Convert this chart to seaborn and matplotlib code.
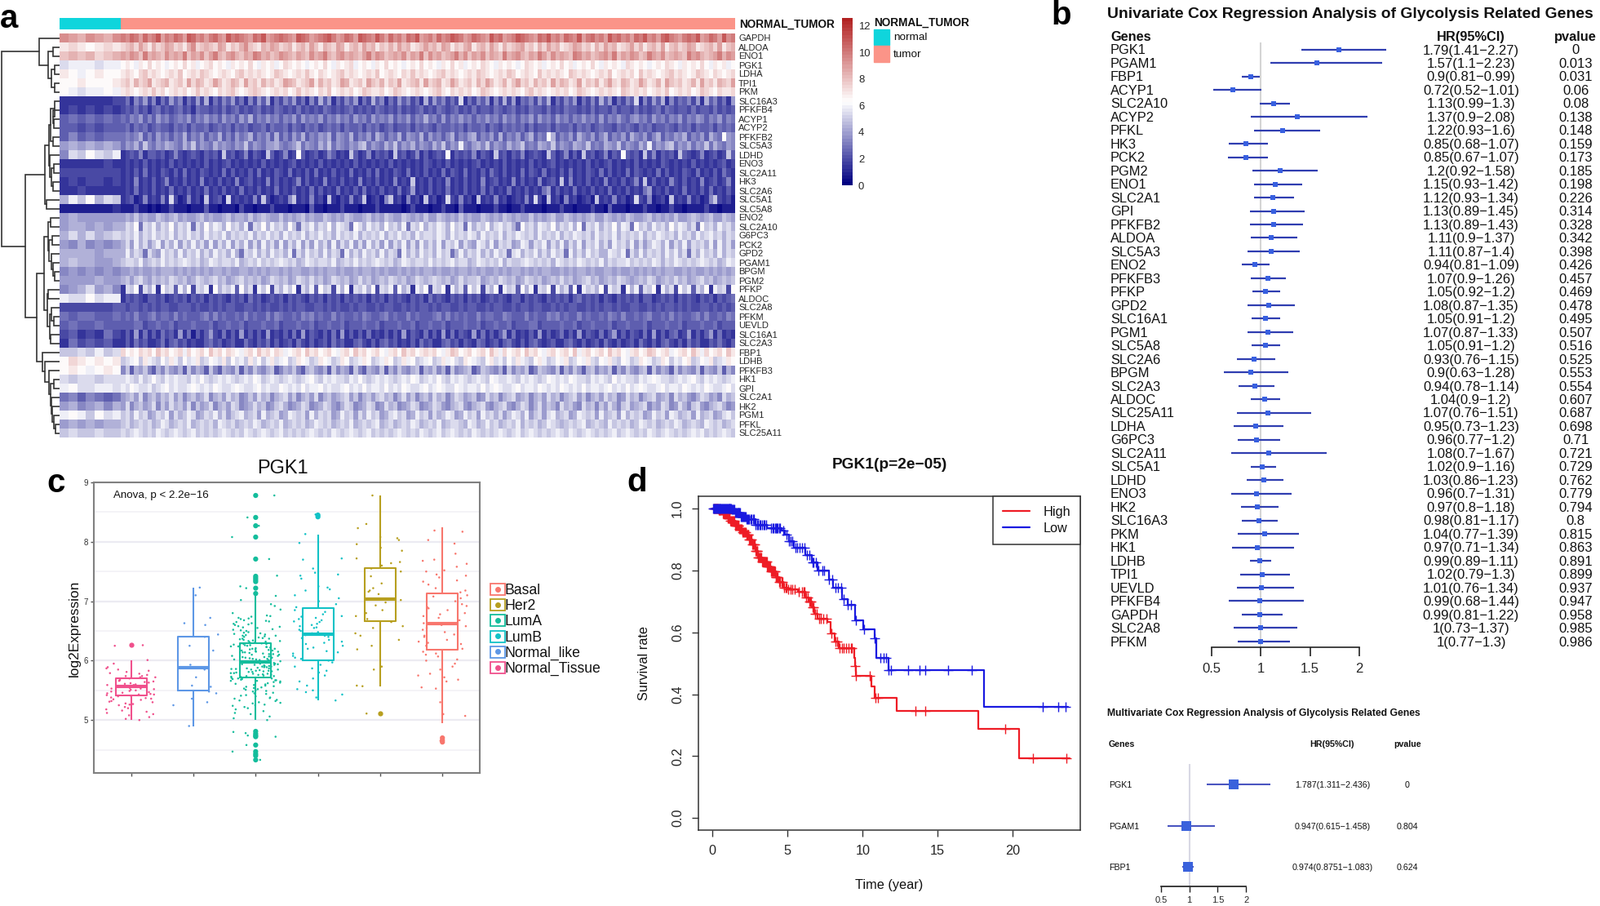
import numpy as np
import pandas as pd
import seaborn as sns
from matplotlib import pyplot as plt
from matplotlib.colors import LinearSegmentedColormap, ListedColormap
from matplotlib.legend_handler import HandlerTuple
from matplotlib.lines import Line2D
from matplotlib.patches import Patch, Rectangle

W, H = 1961, 1110

# panel a
heat_genes = ["GAPDH", "ALDOA", "ENO1", "PGK1", "LDHA", "TPI1", "PKM", "SLC16A3", "PFKFB4", "ACYP1", "ACYP2",
              "PFKFB2", "SLC5A3", "LDHD", "ENO3", "SLC2A11", "HK3", "SLC2A6", "SLC5A1", "SLC5A8", "ENO2", "SLC2A10",
              "G6PC3", "PCK2", "GPD2", "PGAM1", "BPGM", "PGM2", "PFKP", "ALDOC", "SLC2A8", "PFKM", "UEVLD",
              "SLC16A1", "SLC2A3", "FBP1", "LDHB", "PFKFB3", "HK1", "GPI", "SLC2A1", "HK2", "PGM1", "PFKL", "SLC25A11"]
# one character per column, base 36, half-unit bins of expression:
# 7 normal columns (each shown twice), then 140 tumor columns
heat_rows = [
    "ihgihgi jikjhkijlh jikjhlkijh jkihljkjih kjlhijkjih lkjhijkljh ikjhlkjilj hkijhkjlhi jhkijlkjhi kjihljkhij lkjihkjlij hkjilhjkij hljkijhkjl ijhkljihjk jlhikjhlij",
    "dedcded efgehfdgef hgefdgiefg fehgdfegif edgfhgefgd fgehfdgfeh gdfgehfgdf egehfgdefh fgehgdfegh dfgehfdgef ghefdgehfg defhgefdge hfgdefhegd fgehdfgefh gdefgehdfg",
    "fgfgefg hgihfjghgf ighgjfhgif hjgfhigfhg jighfgihgf hgfighjgfh ighgfhjgih fghgifhgjf ighfghjgif hgifhgfjgh igfhgjhfig hgfjighfgh igjfhgihfg jhgifghgfj higfghjgih",
    "abbbabb cdcbdcecdc bcdcecdbcd ecdcbdcdce cbdcdbcedc dcbcdcecbd cdebcdcbdc ecdcbcdcec dcbdcecdbc dcedcbdcdc bcedcdbcdc ecdbcdcecb dcdcbedcdc bcdcedcbdc dcecbdcdbc",
    "dcbcdcc dedcefdedc dedfcdedfe dcdedcefde dedcdfedcd edfdcedcde fdedcdedfc dedcedfded cdefdedcde dfedcdedfe cdedcfdede dcfededcde dfcdedecfd edcdefdedc dfedcedcde",
    "ccdcccd efdgefhdef gdefdhegfd ehfdegfdhe fdgefdehgf defhdgefde hgdefdhfeg dfehdefgdh efgdehfdef dgehfdegdf hefdgefdhe gfdehdfegd fhedgfdehf degdhfefde gdhefdgfeh",
    "cbabbcb dedcdedfde cdedecdfde dcedefdcde fedcdedecd fdedcedfcd edecdfedde cdfedcdedc defdcedede cdfedcdede dcefdedcde decdfedcde dedcfedede cdedfcdede cdfedcedde",
    "2222223 3526473625 3746253738 2536473526 3748253647 3526384725 3647253846 2537463528 3746353a25 3647263837 2546374825 3647253638 4725364a26 3748263546 3728463527",
    "2323232 3435342453 4345342544 3435345343 4534354343 5343435434 3453434354 3435343453 4354345343 5344354345 3435443534 3544343534 4353443534 3453543443 5344353434",
    "4545454 5465746475 6456574657 5647564758 4657564657 4756574657 5647564756 5746574658 5647465756 4657564756 4657475647 5646575647 4657546756 4756465746 5764657465",
    "4434344 4535453454 4354535445 3454535453 4453544535 4354534545 3544535453 4534453545 4354454535 4453543545 4535344535 4453545345 4435454354 5344543545 3544535454",
    "4645455 5656846475 6465846574 6584647568 4657484647 5846576847 6584657486 4658476584 7564684657 8465748465 7468465c84 6574865746 8465748657 4684657684 6574865c76",
    "7878787 5768596576 8765869576 5867657695 7657786567 9576586957 6576895765 8695768576 5869576b65 7869576586 7956587695 7658769565 8769576586 b576895768 5769586576",
    "6a9ca9b 2343624434 2363234324 3429342362 4329423623 c423423642 3294236243 4293423624 2343c24343 6243293424 3623432942 3624293423 6243c43429 3624342943 2362342394",
    "2222232 2323242323 2423232324 2323423232 3242323234 2323242323 2324232323 2423232324 3232423232 3423232423 2324232342 3232324232 3423232423 2324323232 4232323423",
    "3333333 2324252324 3242523243 2325242324 2523243252 3242523242 3252324252 3243252324 2325243252 3242532423 2524325232 4252324325 2423252432 3252423243 2523242532",
    "2323323 2326232423 6232423262 3242326234 2326242323 6242326232 4232623242 3262329232 4232623242 3262342326 2423262342 9262324232 6232423629 2423263242 3262342362",
    "2232222 2325232423 2523242325 2324232523 2423252324 2325242325 2324252324 2325237232 4232523242 3252423252 3242325724 2325232423 2523242325 7232423252 3242523242",
    "8b9c8a9 2341262326 2a31262319 2341a23232 6293123269 2326231921 3262391231 6923162319 2312a32623 1923262312 3262a31923 1623123192 3262312a32 6123192326 2312693231",
    "1111112 1113110101 1311101114 1101110311 0111311101 1104110111 3111011131 1111013111 0113110411 1011131101 1311110111 3110111311 0411101113 1101131101 1113110111",
    "7877777 7879787798 7897877897 8778978879 7898779787 8978779878 7987789787 9877987879 7798787978 7798787987 8779787897 7987878977 9878798778 9787879778 9878977987",
    "7887878 8a9c5a9b8a 9c8a9b5a8c 9ba8c9a8b5 a9c8b9a8c9 5a9b8a9c8b a95ca8b9a8 c9a8b5a9c8 a9ba8c9a5b 8a9c8ab9a8 5c9a8ba9c8 a9b8c5a9b8 a9c8ba5c9a 8b9a8c9ba8 a5c9a8b9a8",
    "8a8a89a 9a9b8a9b9a 9b8a9b9a8b 9a9b8a9a9b 8a9b9a8b9a 9b8a9b9a8b 9a9b8a9a9b 8a9b9a8b9a a9ba8b9a9b a8b9a9b8a9 ba9a8b9a9b 8a9ba9a8b9 a9b8a9a9b8 a9ba9a8b9a 8b9ab9a8a9",
    "7686767 8a7b8a79b7 a8b7a8b8a7 b7a8b7a8b7 a7b8a7b7a8 b7a7b8a7b7 a8b7a7b8a7 b7a8b7a7b8 a8b7a9b7a8 7ba8b7a9a7 8ba7a9b7a8 b7a8b7a9b8 a7b9a8b7a7 9ba8b7a8b7 a9a8b7b8a7",
    "8888788 8b8a95a87b 9a8b8a9b8a 8b9a8b85a9 b8a8b9a8b5 a8b9a8b8a9 5b8a8b9a8b 8a95b8a8b9 a8b9a58b8a 9b8a8b9a5a b8a9b8a8b9 a5b8a8b9a8 8ba9b5a8b8 a9a8b9b8a5 a8b9a8b8a9",
    "8988778 9aa9b89a9b 9a9aba9a89 ba9aa9b89a 9b9a9aba9a 89ba9aa9b8 9a9b9a9aba 9a89ba9aa9 b9a9ab9aa8 9ba9a9b8a9 9aba9a9a8b a9a9ba9a9b 8a9aab9a9a 9ba8a9ba9a 9aba9a89ba",
    "6767676 7787877878 8878787878 7887877887 8787887878 8778787887 8778788787 8778787878 8787787887 8787787878 8787878877 8787887877 8878778787 8787887787 8778787878",
    "7777877 8979a87989 8a98978a98 9a89789a89 8978a98978 a98a8978a9 8978a89789 8a98978a98 9a98978a89 9a7898a989 78a9897898 a89789a897 898a987898 a97898a897 89a8978989",
    "678a786 2a9c3a8b2c 9a4b8c3a9b 2c8a9b4c8a 2b9c3a8b9c 2a8b4c9a3b 8c2a9b8c3a 9b4c8a2b9c 3a9c2b8a4c 9b3a8c2b9a 4c8b2a9c3b 8a4c2b9a8c 3b9a2c8b4a 9c2b8a3c9b 4a8c2b9a3c",
    "baacabb 2434324434 2343424342 4343243425 3423434243 4324342434 2434342434 2434324342 5343243424 3423434324 4243432434 3424534342 4324343424 4234342434 3243424345",
    "3333334 4344343434 4334443433 4343443344 3434334343 4433443434 3343443343 4433434344 3434433434 4334344334 3443443343 4344334343 4434334433 4343443434 3344343434",
    "5455445 4546445645 5464544456 4645445464 5446465445 4656454464 5445465445 6454464544 4564645454 4645544654 4464544656 4544645445 4654644545 6445464544 5646445465",
    "4544544 4445534454 4534445444 5344544534 4454453444 5445344544 5344454453 4445445344 5445344454 4534454453 4445534444 5445344544 4534454445 3444544534 4454453444",
    "3423253 2427252425 3427251424 7325242724 2427232425 2724324252 7242425232 4242724325 2427252432 7252424725 2324272423 5242724325 2472424325 2724245237 2424725232",
    "2534342 2425342235 2453423224 5342342253 2435242342 5324234253 4224532424 5342324253 4224534243 2542342453 2424532342 2453242342 5324234253 2424532425 3422435324",
    "99a9b9a ecdcedecfd ecdebecdec fdecedcbde cfdecedbcd ecfdecdecb decfdecdec bdecfdecde decbdfecde cdecfdbecd ecfdecbdec decfbdecde cfdecbdecd fecdebcdec fdbecdecfd",
    "cedcdcd 9abc9dba9c adb9cabd9a cbad9cab9d ac9bdabc9a dcb9adcb9a dc9abdc9ab dc9adbc9ab c9adbca9dc ba9cdab9ca dba9cdb9ac bd9acbda9c bda9cb9adc b9adc9bacd 9acbd9abdc",
    "cdcbcdc 6948796486 9768496874 9648769486 9768946879 6489768496 8749648769 4869768948 7968496789 4698768496 8794698769 4869748968 7948697689 4968749687 6948769486",
    "a9aa9aa aba9b9aca9 babaa9baca 9ababa9aba cb9aba9aba 9abca9baba a9baca9aba ba9abacb9a baca9baba9 aba9cbaaba 9baba9acba bacbaa9bab a9cabaa9ba bcbaa9abab ca9baba9ab",
    "bcaabba bacbaab9ab cabaabcbab acbaabcbaa bcabaacbab acabbcabaa bcabacabba cabacbaabc abcbaacbab bacabcbaab cabbacbaba cbabacabba bcabacabcb aabcabbacb abacbaabca",
    "5646545 7897a68979 8a7968978a 6897a89679 7a89689a79 6897a68978 9a7968979a 8968a79689 7a8968a978 967a89689a 7896897a89 689a796897 a8967a8968 9a7896a897 68a9786a89",
    "7867868 7a68978a69 7a897a6978 a6897a9678 a89679a867 8a9678a976 8a9678a967 a89678a967 8a97689a76 89a7689a76 8a968a7986 a8976a8969 7a869a789a 687a967a86 9a7689a867",
    "bcb9cab 9a8b9a78a9 b7a89ba78a 9b8a79ab89 a7b89a78ba 9a7b8a9a78 b9a7a8b9a7 8ab9a78b9a 7a89ba78b9 a7b9a8a79b a8b79a7ab8 9a78ba9a7b 89a7b8a9a7 8b9a7ba89a 7b89a78ab9",
    "7878788 9a89a9a89b a89a9b89a9 a8ba9a89a9 ba89a9b89a 9a89ba9a89 a9b89a9ab8 9a89a9ba89 a9b89aa98b a89b9a89a9 b8a9a89ba9 89a9ab89a9 8b9a9a89ba 9a89a9ba89 a98ba9a89a",
    "9a99a99 a9aba9a9ba 9aba9ab9a9 a9aba9a9ba 9aba9ab9a9 a9aba9a9ba 9aba9ab9a9 a9aba9a9ba 9ab9aba9a9 ba9a9aba9a b9aba9a9ab a9ba9aba9a 9ab9aba9a9 ba9aba9a9a bab9a9aba9",
]
# dendrogram: (height, left, right), ints are heatmap rows
heat_tree = (71,
             (25, 0, (14, (8, 1, 2), (10, (6, 3, 4), (6, 5, 6)))),
             (42,
              (18,
               (13,
                (11, (6, 7, (8, 8, (7, 9, 10))), (8, 11, 12)),
                (12, 13, (10, (7, 14, 15), (8, 16, 17)))),
               (16, 18, 19)),
              (28,
               (19,
                (14, (11, 20, 21), (13, (9, 22, 23), (10, 24, (8, 25, (6, 26, 27))))),
                (15, (14, 28, 29), (12, (10, 30, (7, 31, 32)), (11, 33, 34)))),
               (21, 35, (18, 36, (13, 37, (11, (7, 38, 39), (10, 40, (9, 41, (7, 42, (5, 43, 44)))))))))))

# panel b
uni_genes = ["PGK1", "PGAM1", "FBP1", "ACYP1", "SLC2A10", "ACYP2", "PFKL", "HK3", "PCK2", "PGM2", "ENO1", "SLC2A1",
             "GPI", "PFKFB2", "ALDOA", "SLC5A3", "ENO2", "PFKFB3", "PFKP", "GPD2", "SLC16A1", "PGM1", "SLC5A8",
             "SLC2A6", "BPGM", "SLC2A3", "ALDOC", "SLC25A11", "LDHA", "G6PC3", "SLC2A11", "SLC5A1", "LDHD", "ENO3",
             "HK2", "SLC16A3", "PKM", "HK1", "LDHB", "TPI1", "UEVLD", "PFKFB4", "GAPDH", "SLC2A8", "PFKM"]
uni_hr = [1.79, 1.57, 0.9, 0.72, 1.13, 1.37, 1.22, 0.85, 0.85, 1.2, 1.15, 1.12, 1.13, 1.13, 1.11, 1.11, 0.94, 1.07,
          1.05, 1.08, 1.05, 1.07, 1.05, 0.93, 0.9, 0.94, 1.04, 1.07, 0.95, 0.96, 1.08, 1.02, 1.03, 0.96, 0.97, 0.98,
          1.04, 0.97, 0.99, 1.02, 1.01, 0.99, 0.99, 1, 1]
uni_lo = [1.41, 1.1, 0.81, 0.52, 0.99, 0.9, 0.93, 0.68, 0.67, 0.92, 0.93, 0.93, 0.89, 0.89, 0.9, 0.87, 0.81, 0.9,
          0.92, 0.87, 0.91, 0.87, 0.91, 0.76, 0.63, 0.78, 0.9, 0.76, 0.73, 0.77, 0.7, 0.9, 0.86, 0.7, 0.8, 0.81,
          0.77, 0.71, 0.89, 0.79, 0.76, 0.68, 0.81, 0.73, 0.77]
uni_hi = ["2.27", "2.23", "0.99", "1.01", "1.3", "2.08", "1.6", "1.07", "1.07", "1.58", "1.42", "1.34", "1.45", "1.43",
          "1.37", "1.4", "1.09", "1.26", "1.2", "1.35", "1.2", "1.33", "1.2", "1.15", "1.28", "1.14", "1.2", "1.51",
          "1.23", "1.2", "1.67", "1.16", "1.23", "1.31", "1.18", "1.17", "1.39", "1.34", "1.11", "1.3", "1.34",
          "1.44", "1.22", "1.37", "1.3"]
uni_p = ["0", "0.013", "0.031", "0.06", "0.08", "0.138", "0.148", "0.159", "0.173", "0.185", "0.198", "0.226", "0.314",
         "0.328", "0.342", "0.398", "0.426", "0.457", "0.469", "0.478", "0.495", "0.507", "0.516", "0.525", "0.553",
         "0.554", "0.607", "0.687", "0.698", "0.71", "0.721", "0.729", "0.762", "0.779", "0.794", "0.8", "0.815",
         "0.863", "0.891", "0.899", "0.937", "0.947", "0.958", "0.985", "0.986"]
multi_genes = ["PGK1", "PGAM1", "FBP1"]
multi_hr = [1.787, 0.947, 0.974]
multi_lo = [1.311, 0.615, 0.8751]
multi_hi = [2.436, 1.458, 1.083]
multi_label = ["1.787(1.311\u22122.436)", "0.947(0.615\u22121.458)", "0.974(0.8751\u22121.083)"]
multi_p = ["0", "0.804", "0.624"]

# panel c
subtypes = ["Normal_Tissue", "Normal_like", "LumA", "LumB", "Her2", "Basal"]
legend_order = ["Basal", "Her2", "LumA", "LumB", "Normal_like", "Normal_Tissue"]
subtype_colors = {"Basal": "#f8766d", "Her2": "#b79f1f", "LumA": "#14bd9c", "LumB": "#12c2c6",
                  "Normal_like": "#5d97e6", "Normal_Tissue": "#f0508c"}
# low whisker, q1, median, q3, high whisker
box_stats = {"Normal_Tissue": [5.0, 5.41, 5.56, 5.71, 6.01],
             "Normal_like": [4.89, 5.5, 5.885, 6.4, 7.23],
             "LumA": [5.0, 5.72, 5.98, 6.29, 7.09],
             "LumB": [5.33, 6.01, 6.44, 6.88, 8.12],
             "Her2": [5.56, 6.66, 7.03, 7.56, 8.78],
             "Basal": [4.95, 6.18, 6.63, 7.13, 8.24]}
outliers = {"Normal_Tissue": [6.26],
            "LumA": [8.78, 8.41, 8.27, 8.08, 7.71, 7.42, 7.39, 7.36, 7.33, 7.22, 7.13, 4.81, 4.77, 4.74, 4.72, 4.58,
                     4.47, 4.43, 4.4, 4.33],
            "LumB": [8.45, 8.42],
            "Her2": [5.11],
            "Basal": [4.7, 4.66, 4.63]}
points = {
    "Normal_Tissue": [6.26, 6.25, 6.01, 5.95, 5.89, 5.87, 5.85, 5.83, 5.81, 5.79, 5.78, 5.76, 5.74, 5.72, 5.71, 5.7,
                      5.68, 5.66, 5.65, 5.64, 5.63, 5.62, 5.6, 5.59, 5.58, 5.57, 5.56, 5.55, 5.54, 5.53, 5.52, 5.51,
                      5.5, 5.48, 5.47, 5.45, 5.44, 5.43, 5.42, 5.41, 5.4, 5.38, 5.36, 5.34, 5.32, 5.3, 5.28, 5.26,
                      5.25, 5.22, 5.2, 5.18, 5.16, 5.14, 5.12, 5.1, 5.08, 5.05, 5.02, 5.0, 5.72, 5.67, 5.61, 5.57,
                      5.53, 5.49, 5.43, 5.37, 5.31, 5.27, 5.74, 5.59, 5.46, 5.35],
    "Normal_like": [7.23, 7.1, 6.72, 6.63, 6.6, 6.44, 6.4, 6.25, 6.17, 5.93, 5.88, 5.85, 5.72, 5.58, 5.56, 5.48, 5.45,
                    5.36, 5.3, 5.25, 4.9],
    "LumA": [8.78, 8.41, 8.27, 8.08, 7.71, 7.43, 7.25, 7.22, 7.09, 7.02, 6.95, 6.92, 6.86, 6.8, 6.76, 6.74, 6.72, 6.7,
             6.68, 6.66, 6.65, 6.63, 6.62, 6.6, 6.58, 6.56, 6.55, 6.53, 6.52, 6.5, 6.48, 6.47, 6.45, 6.44, 6.43, 6.42,
             6.4, 6.39, 6.38, 6.37, 6.35, 6.34, 6.33, 6.32, 6.3, 6.29, 6.28, 6.27, 6.26, 6.25, 6.24, 6.23, 6.22, 6.21,
             6.2, 6.19, 6.18, 6.17, 6.16, 6.15, 6.14, 6.13, 6.12, 6.11, 6.1, 6.09, 6.08, 6.07, 6.06, 6.05, 6.04, 6.03,
             6.02, 6.01, 6.0, 5.99, 5.98, 5.97, 5.96, 5.95, 5.94, 5.93, 5.92, 5.91, 5.9, 5.89, 5.88, 5.87, 5.86, 5.85,
             5.84, 5.83, 5.82, 5.81, 5.8, 5.79, 5.78, 5.77, 5.76, 5.75, 5.74, 5.73, 5.72, 5.71, 5.7, 5.69, 5.68, 5.67,
             5.66, 5.65, 5.63, 5.62, 5.6, 5.59, 5.57, 5.56, 5.54, 5.53, 5.51, 5.5, 5.48, 5.46, 5.44, 5.42, 5.4, 5.38,
             5.36, 5.34, 5.32, 5.3, 5.28, 5.26, 5.24, 5.22, 5.2, 5.18, 5.15, 5.12, 5.1, 5.06, 5.03, 5.0, 4.8, 4.78,
             4.74, 4.72, 4.58, 4.47, 4.33, 6.75, 6.71, 6.67, 6.61, 6.57, 6.51, 6.46, 6.41, 6.36, 6.31, 6.29, 6.26,
             6.23, 6.2, 6.17, 6.14, 6.11, 6.08, 6.05, 6.03, 6.01, 5.99, 5.97, 5.95, 5.93, 5.91, 5.89, 5.87, 5.85,
             5.83, 5.81, 5.79, 5.77, 5.75, 5.73, 5.71, 5.69, 5.67, 5.64, 5.61, 5.58, 5.55, 5.52, 5.49, 5.45, 5.41,
             5.37, 5.33, 5.29, 5.25, 6.42, 6.37, 6.33, 6.28, 6.24, 6.19, 6.15, 6.1, 6.06, 6.02, 5.98, 5.94, 5.9,
             5.86, 5.82, 5.78, 5.74, 5.7, 5.66],
    "LumB": [8.46, 8.13, 7.98, 7.72, 7.7, 7.55, 7.48, 7.45, 7.43, 7.38, 7.25, 7.23, 7.2, 7.18, 7.1, 7.05, 7.0, 6.95,
             6.9, 6.85, 6.82, 6.78, 6.75, 6.72, 6.7, 6.68, 6.65, 6.62, 6.6, 6.58, 6.55, 6.52, 6.5, 6.46, 6.43, 6.4,
             6.38, 6.35, 6.32, 6.28, 6.25, 6.2, 6.16, 6.12, 6.08, 6.05, 6.0, 5.97, 5.93, 5.9, 5.87, 5.83, 5.8, 5.75,
             5.7, 5.65, 5.58, 5.52, 5.5, 5.47, 5.43, 5.38, 5.33, 6.74, 6.66, 6.56, 6.48, 6.42, 6.3, 6.22, 6.14, 6.03],
    "Her2": [8.78, 8.3, 8.23, 8.08, 8.06, 8.03, 7.96, 7.9, 7.85, 7.72, 7.66, 7.64, 7.6, 7.55, 7.5, 7.42, 7.3, 7.22,
             7.18, 7.16, 7.12, 7.02, 6.98, 6.93, 6.85, 6.8, 6.75, 6.7, 6.65, 6.58, 6.55, 6.46, 6.42, 6.35, 6.25, 6.19,
             5.9, 5.85, 5.58, 5.57, 5.11],
    "Basal": [8.19, 8.17, 8.03, 7.97, 7.8, 7.7, 7.68, 7.63, 7.58, 7.52, 7.5, 7.45, 7.43, 7.4, 7.33, 7.28, 7.22, 7.18,
              7.15, 7.1, 7.05, 7.0, 6.95, 6.9, 6.88, 6.85, 6.8, 6.75, 6.72, 6.68, 6.63, 6.6, 6.55, 6.52, 6.48, 6.42,
              6.4, 6.35, 6.32, 6.28, 6.25, 6.2, 6.15, 6.1, 6.07, 6.02, 6.0, 5.95, 5.9, 5.85, 5.78, 5.75, 5.72, 5.68,
              5.65, 5.55, 5.53, 5.3, 5.1, 5.07, 4.65, 7.35, 7.08, 6.92, 6.78, 6.58, 6.44, 6.3, 6.12]}

# panel d
high_time = [0, 0.4, 0.7, 1.0, 1.2, 1.5, 1.8, 2.0, 2.25, 2.45, 2.65, 2.85, 3.04, 3.3, 3.63, 3.9, 4.2, 4.45, 4.7, 5.0,
             5.7, 6.2, 6.4, 6.6, 6.8, 7.0, 7.65, 7.85, 8.15, 8.4, 9.45, 9.5, 9.55, 10.6, 10.8, 12.25, 17.7, 20.45, 23.8]
high_surv = [1.0, 0.995, 0.985, 0.97, 0.96, 0.945, 0.935, 0.925, 0.915, 0.9, 0.883, 0.862, 0.841, 0.828, 0.814, 0.797,
             0.78, 0.762, 0.745, 0.738, 0.731, 0.713, 0.7, 0.681, 0.66, 0.644, 0.635, 0.596, 0.571, 0.548, 0.518, 0.49,
             0.46, 0.424, 0.389, 0.346, 0.288, 0.192, 0.192]
low_time = [0, 1.27, 1.47, 1.86, 2.25, 2.84, 3.63, 4.6, 4.8, 5.1, 5.4, 6.2, 6.6, 7.0, 7.75, 8.05, 8.6, 9.0, 9.5, 10.05,
            10.8, 10.9, 11.7, 18.1, 23.7]
low_surv = [1.0, 0.997, 0.988, 0.974, 0.965, 0.947, 0.938, 0.928, 0.915, 0.896, 0.873, 0.85, 0.826, 0.8, 0.772, 0.745,
            0.708, 0.69, 0.638, 0.61, 0.58, 0.518, 0.479, 0.36, 0.36]
high_censor = [0.1, 0.15, 0.2, 0.25, 0.3, 0.35, 0.4, 0.45, 0.5, 0.55, 0.6, 0.65, 0.7, 0.75, 0.8, 0.85, 0.9, 0.95, 1.0,
               1.05, 1.1, 1.15, 1.2, 1.25, 1.3, 1.35, 1.4, 1.45, 1.5, 1.55, 1.6, 1.65, 1.7, 1.75, 1.8, 1.85, 1.9, 1.95,
               2.0, 2.05, 2.1, 2.15, 2.2, 2.25, 2.3, 2.35, 2.4, 2.45, 2.5, 2.55, 2.6, 2.65, 2.7, 2.75, 2.8, 2.85, 2.9,
               2.95, 3.0, 3.05, 3.1, 3.15, 3.2, 3.25, 3.3, 3.35, 3.4, 3.45, 3.5, 3.55, 3.6, 3.65, 3.7, 3.75, 3.8, 3.85,
               3.9, 3.95, 4.0, 4.05, 4.1, 4.15, 4.2, 4.25, 4.3, 4.35, 4.45, 4.5, 4.6, 4.65, 4.75, 4.85, 4.95, 5.05, 5.2,
               5.3, 5.45, 5.75, 5.95, 6.05, 6.15, 6.25, 6.35, 6.45, 6.5, 6.55, 6.65, 6.75, 6.85, 6.95, 7.1, 7.2, 7.4,
               7.6, 7.9, 8.2, 8.3, 8.45, 8.6, 8.75, 8.9, 9.05, 9.2, 9.3, 9.5, 9.55, 10.5, 10.85, 11.0, 13.5, 14.15,
               19.5, 21.35, 23.55]
low_censor = [0.05, 0.1, 0.15, 0.2, 0.25, 0.3, 0.35, 0.4, 0.45, 0.5, 0.55, 0.6, 0.65, 0.7, 0.75, 0.8, 0.85, 0.9, 0.95,
              1.0, 1.05, 1.1, 1.15, 1.2, 1.25, 1.3, 1.35, 1.4, 1.45, 1.5, 1.55, 1.6, 1.65, 1.7, 1.75, 1.8, 1.85, 1.9,
              1.95, 2.0, 2.05, 2.1, 2.15, 2.2, 2.25, 2.3, 2.4, 2.45, 2.55, 2.6, 2.7, 2.75, 2.85, 2.95, 3.05, 3.15, 3.2,
              3.3, 3.4, 3.45, 3.55, 3.9, 4.0, 4.05, 4.15, 4.2, 4.3, 4.35, 4.45, 4.5, 4.7, 4.95, 5.1, 5.2, 5.3, 5.55,
              5.65, 5.8, 5.95, 6.1, 6.3, 6.45, 6.65, 6.75, 6.9, 7.05, 7.3, 7.45, 7.75, 8.0, 8.2, 8.35, 8.55, 8.75,
              9.0, 9.25, 9.55, 10.1, 10.8, 11.2, 11.4, 11.55, 11.7, 11.9, 13.05, 13.8, 14.15, 15.7, 17.25, 22.0,
              23.05, 23.5]


def add_ax(x0, y0, x1, y1):
    # pixel box of the reference, y from the top
    return fig.add_axes([x0 / W, 1 - y1 / H, (x1 - x0) / W, (y1 - y0) / H])


def txt(x, y, s, **kw):
    kw.setdefault("va", "center")
    fig.text(x / W, 1 - y / H, s, **kw)


def draw_tree(ax, node):
    if isinstance(node, int):
        return node + 0.5, 0
    h, left, right = node
    y1, h1 = draw_tree(ax, left)
    y2, h2 = draw_tree(ax, right)
    ax.plot([h1, h, h, h2], [y1, y1, y2, y2], color="#333333", lw=1.2, solid_joinstyle="miter")
    return (y1 + y2) / 2, h


def step_value(times, surv, t):
    return surv[np.searchsorted(times, t, side="right") - 1]


sns.set_theme(style="white")
plt.rcParams["font.family"] = ["Liberation Sans", "DejaVu Sans"]
plt.rcParams["text.color"] = "#111111"

fig = plt.figure(figsize=(W / 100, H / 100), dpi=100)

# --- a: heatmap
heat_values = []
for row in heat_rows:
    normal, tumor = row.split(" ", 1)
    # value of a bin: a bit above its lower edge
    normal_vals = [(int(c, 36) + 0.7) / 2 for c in normal]
    tumor_vals = [(int(c, 36) + 0.7) / 2 for c in tumor.replace(" ", "")]
    heat_values.append(list(np.repeat(normal_vals, 2)) + tumor_vals)
heat = pd.DataFrame(heat_values, index=heat_genes)
cmap = LinearSegmentedColormap.from_list("nwf", ["navy", "white", "firebrick"], N=50)
ax = add_ax(73, 41, 901, 536)
cax = add_ax(1032, 22, 1045, 227)
sns.heatmap(heat, ax=ax, cbar_ax=cax, cmap=cmap, vmin=0, vmax=12.6, xticklabels=False, yticklabels=heat_genes)
ax.yaxis.tick_right()
ax.tick_params(axis="y", length=0, labelsize=8, labelrotation=0, pad=3)
cax.set_yticks(range(0, 13, 2))
cax.tick_params(length=0, labelsize=9.4, pad=5)

bar_ax = add_ax(73, 22, 901, 36)
sns.heatmap([[0] * 14 + [1] * 140], ax=bar_ax, cmap=ListedColormap(["#0fd5dc", "#fb9488"]), cbar=False,
            xticklabels=False, yticklabels=False)
txt(906, 30, "NORMAL_TUMOR", fontsize=9.8, fontweight="bold")
txt(1071, 27.5, "NORMAL_TUMOR", fontsize=9.8, fontweight="bold")
for y0, c, name in [(36, "#0fd5dc", "normal"), (56.5, "#fb9488", "tumor")]:
    fig.add_artist(Rectangle((1071 / W, 1 - (y0 + 19) / H), 19 / W, 19 / H, color=c, transform=fig.transFigure))
    txt(1095, y0 + 10, name, fontsize=9.7)

tree_ax = add_ax(0, 41, 73, 536)
draw_tree(tree_ax, heat_tree)
tree_ax.set_xlim(73, 0)
tree_ax.set_ylim(45, 0)
tree_ax.axis("off")

# --- b: univariate forest
ax = add_ax(1440, 52, 1720, 793)
rows = np.arange(len(uni_genes))
hi_values = [float(v) for v in uni_hi]
ax.axvline(1, color="#d4d4d4", lw=1.5, zorder=0)
ax.hlines(rows, uni_lo, hi_values, color="#2f3db0", lw=1.6)
sns.scatterplot(x=uni_hr, y=rows, ax=ax, marker="s", s=20, color="#3860e0", linewidth=0, zorder=3)
ax.set_xlim(0.132, 2.446)
ax.set_ylim(44.43, -0.53)
for side in ["top", "left", "right"]:
    ax.spines[side].set_visible(False)
ax.spines["bottom"].set_bounds(0.5, 2)
ax.spines["bottom"].set_color("#222222")
ax.spines["bottom"].set_linewidth(1.2)
ax.set_xticks([0.5, 1, 1.5, 2], ["0.5", "1", "1.5", "2"])
ax.set_yticks([])
ax.tick_params(axis="x", bottom=True, length=8, width=1.2, color="#222222", labelsize=12, pad=6)
ax.patch.set_alpha(0)

txt(1357, 17.5, "Univariate Cox Regression Analysis of Glycolysis Related Genes", fontsize=13.95, fontweight="bold")
txt(1361, 45.5, "Genes", fontsize=11.8, fontweight="bold")
txt(1803, 45.5, "HR(95%CI)", fontsize=11.8, fontweight="bold", ha="center")
txt(1931, 45.5, "pvalue", fontsize=11.8, fontweight="bold", ha="center")
for i, gene in enumerate(uni_genes):
    y = 62 + i * 16.48
    txt(1361, y, gene, fontsize=11.8)
    txt(1803, y, f"{uni_hr[i]:g}({uni_lo[i]:g}\u2212{uni_hi[i]})", fontsize=12, ha="center")
    txt(1931, y, uni_p[i], fontsize=12, ha="center")

# --- b: multivariate forest
ax = add_ax(1400, 936, 1560, 1086)
ax.axvline(1, color="#d8d8e4", lw=1.5, zorder=0)
ax.hlines(range(3), multi_lo, multi_hi, color="#4a55c0", lw=1.5)
sns.scatterplot(x=multi_hr, y=range(3), ax=ax, marker="s", s=85, color="#3a62dc", linewidth=0, zorder=3)
ax.set_xlim(0.5 - 23 / 69.6, 2 + 33 / 69.6)
ax.set_ylim(2.475, -0.495)
for side in ["top", "left", "right"]:
    ax.spines[side].set_visible(False)
ax.spines["bottom"].set_bounds(0.5, 2)
ax.spines["bottom"].set_color("#222222")
ax.set_xticks([0.5, 1, 1.5, 2], ["0.5", "1", "1.5", "2"])
ax.set_yticks([])
ax.tick_params(axis="x", bottom=True, length=5, width=1, color="#222222", labelsize=8, pad=4)
ax.patch.set_alpha(0)

txt(1357, 874, "Multivariate Cox Regression Analysis of Glycolysis Related Genes", fontsize=8.75, fontweight="bold")
txt(1359, 912, "Genes", fontsize=7.7, fontweight="bold")
txt(1633, 912, "HR(95%CI)", fontsize=7.7, fontweight="bold", ha="center")
txt(1725, 912, "pvalue", fontsize=7.7, fontweight="bold", ha="center")
for i, gene in enumerate(multi_genes):
    y = 962 + i * 50.5
    txt(1359, y, gene, fontsize=7.7)
    txt(1633, y, multi_label[i], fontsize=7.7, ha="center")
    txt(1725, y, multi_p[i], fontsize=7.7, ha="center")

# --- c: box plot
ax = add_ax(115, 591, 588, 947)
point_df = pd.DataFrame([(k, v) for k in subtypes for v in points[k]], columns=["subtype", "value"])
box_df = pd.DataFrame([(k, v) for k in subtypes for v in box_stats[k]], columns=["subtype", "value"])
out_df = pd.DataFrame([(k, v) for k in outliers for v in outliers[k]], columns=["subtype", "value"])
ax.set_axisbelow(True)
ax.grid(True, which="major", color="#ecebf2", lw=1.6)
ax.grid(True, which="minor", axis="y", color="#f2f1f6", lw=1.2)
sns.stripplot(data=point_df, x="subtype", y="value", hue="subtype", order=subtypes, palette=subtype_colors,
              jitter=0.4, size=1.8, linewidth=0, legend=False, ax=ax)
sns.stripplot(data=out_df, x="subtype", y="value", hue="subtype", order=subtypes, palette=subtype_colors,
              jitter=False, size=4.5, linewidth=0, legend=False, ax=ax)
sns.boxplot(data=box_df, x="subtype", y="value", hue="subtype", order=subtypes, palette=subtype_colors, fill=False,
            width=0.5, whis=(0, 100), linewidth=1.5, medianprops={"linewidth": 3}, showcaps=False, legend=False, ax=ax)
ax.set_xlim(-0.6, 5.6)
ax.set_ylim(4.11, 9.0)
ax.set_yticks([5, 6, 7, 8, 9])
ax.set_yticks([4.5, 5.5, 6.5, 7.5, 8.5], minor=True)
ax.set_xticks(range(6), [""] * 6)
ax.set_xlabel("")
ax.set_ylabel("")
ax.tick_params(axis="both", which="major", bottom=True, left=True, length=3, width=1, color="#555555",
               labelsize=7, labelcolor="#333333", pad=2)
ax.tick_params(axis="y", which="minor", length=0)
for spine in ax.spines.values():
    spine.set_color("#808080")
    spine.set_linewidth(1.5)
ax.text(0.05, 0.955, "Anova, p < 2.2e\u221216", transform=ax.transAxes, fontsize=9.6, va="center")
txt(346, 574, "PGK1", fontsize=17, ha="center")
txt(91, 770, "log2Expression", fontsize=12.4, rotation=90, ha="center")
handles = [(Patch(fill=False, edgecolor=subtype_colors[k], lw=1.3),
            Line2D([], [], marker="o", ls="none", ms=4, color=subtype_colors[k])) for k in legend_order]
fig.legend(handles, legend_order, loc="upper left", bbox_to_anchor=(601 / W, 1 - 715 / H), frameon=False,
           fontsize=12.7, handlelength=1.0, handleheight=0.85, handletextpad=0, labelspacing=0.115, borderpad=0,
           borderaxespad=0, handler_map={tuple: HandlerTuple(ndivide=1, pad=0)})

# --- d: survival
ax = add_ax(856, 607.6, 1324, 1017)
sns.lineplot(x=high_time, y=high_surv, ax=ax, color="#ee1c25", lw=1.6, drawstyle="steps-post", estimator=None,
             label="High")
sns.lineplot(x=low_time, y=low_surv, ax=ax, color="#1a1ae0", lw=1.6, drawstyle="steps-post", estimator=None,
             label="Low")
sns.scatterplot(x=high_censor, y=[step_value(high_time, high_surv, t) for t in high_censor], ax=ax, marker="+", s=72,
                color="#ee1c25", linewidth=1.0, legend=False, zorder=3)
sns.scatterplot(x=low_censor, y=[step_value(low_time, low_surv, t) for t in low_censor], ax=ax, marker="+", s=72,
                color="#1a1ae0", linewidth=1.0, legend=False, zorder=4)
ax.set_xlim(-0.94, 24.5)
ax.set_ylim(-0.039, 1.041)
ax.set_xticks([0, 5, 10, 15, 20])
ax.set_yticks([0, 0.2, 0.4, 0.6, 0.8, 1.0], ["0.0", "0.2", "0.4", "0.6", "0.8", "1.0"])
ax.tick_params(axis="both", bottom=True, left=True, length=6, width=1, color="#333333", labelsize=11.7, pad=7)
plt.setp(ax.get_yticklabels(), rotation=90, va="center")
for spine in ax.spines.values():
    spine.set_color("#333333")
    spine.set_linewidth(1.1)
leg = ax.legend(loc="upper right", borderaxespad=0, fancybox=False, framealpha=1, edgecolor="#333333", fontsize=11.7,
                handlelength=2, handletextpad=1.0, labelspacing=0.3, borderpad=0.75)
leg.get_frame().set_linewidth(1.1)
txt(1090, 570, "PGK1(p=2e\u221205)", fontsize=13.8, fontweight="bold", ha="center")
txt(1090, 1085, "Time (year)", fontsize=11.7, ha="center")
txt(789, 812, "Survival rate", fontsize=11.7, rotation=90, ha="center")

# panel letters
for x, y, letter in [(0, 23, "a"), (1288, 19, "b"), (57, 592, "c"), (768, 591, "d")]:
    txt(x, y, letter, fontsize=29, fontweight="bold", color="black")

fig.savefig("out.png", dpi=100)
